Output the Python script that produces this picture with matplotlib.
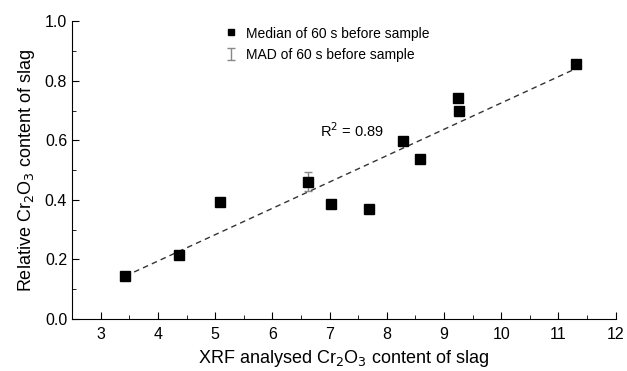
import numpy as np
import matplotlib
matplotlib.use('Agg')
import matplotlib.pyplot as plt

plt.rcParams['font.family'] = ['Liberation Sans', 'DejaVu Sans']

# XRF analysed Cr2O3 vs relative Cr2O3 (median of 60 s before sample)
xrf = [3.43, 4.36, 5.09, 6.63, 7.03, 7.68, 8.29, 8.58, 9.24, 9.26, 11.30]
median = [0.143, 0.216, 0.394, 0.461, 0.387, 0.370, 0.598, 0.538, 0.741, 0.700, 0.857]
mad = [0.006, 0.008, 0.012, 0.032, 0.006, 0.006, 0.006, 0.012, 0.006, 0.008, 0.012]
r2_label = 'R$^2$ = 0.89'

fig, ax = plt.subplots(figsize=(6.27, 3.71), dpi=100)
fig.subplots_adjust(left=0.115, right=0.982, bottom=0.14, top=0.943)

ax.errorbar(xrf, median, yerr=mad, fmt='none', ecolor='#888888',
            elinewidth=1, capsize=3, capthick=1, zorder=2)
ax.plot(xrf, median, 's', color='black', markersize=6.5, zorder=3)

# linear fit
k, b = np.polyfit(xrf, median, 1)
xs = np.array([min(xrf), max(xrf)])
ax.plot(xs, k * xs + b, '--', color='#333333', lw=1, dashes=(4, 3), zorder=1)

ax.text(6.83, 0.634, r2_label, fontsize=10.5, ha='left', va='center')

# legend by hand
ax.plot([5.275], [0.963], 's', color='black', markersize=4.5, clip_on=False)
ax.errorbar([5.275], [0.889], yerr=[0.02], fmt='none', ecolor='#888888',
            elinewidth=1, capsize=3, capthick=1, clip_on=False)
ax.text(5.54, 0.956, 'Median of 60 s before sample', fontsize=10, va='center')
ax.text(5.54, 0.886, 'MAD of 60 s before sample', fontsize=10, va='center')

ax.set_xlim(2.5, 12)
ax.set_ylim(0, 1.0)
ax.set_xticks(range(3, 13))
ax.set_yticks(np.arange(0, 1.01, 0.2))
ax.set_xticks(np.arange(3.5, 12, 1.0), minor=True)
ax.set_yticks(np.arange(0.1, 1.0, 0.2), minor=True)
ax.yaxis.set_major_formatter(matplotlib.ticker.FormatStrFormatter('%.1f'))
ax.tick_params(direction='in', which='major', length=5, labelsize=11.5)
ax.tick_params(direction='in', which='minor', length=3)
ax.tick_params(axis='x', pad=6)

for s in ['top', 'right']:
    ax.spines[s].set_visible(False)

ax.set_xlabel('XRF analysed Cr$_2$O$_3$ content of slag', fontsize=13, labelpad=4)
ax.set_ylabel('Relative Cr$_2$O$_3$ content of slag', fontsize=13, labelpad=6)

fig.savefig('out.png', dpi=100)
